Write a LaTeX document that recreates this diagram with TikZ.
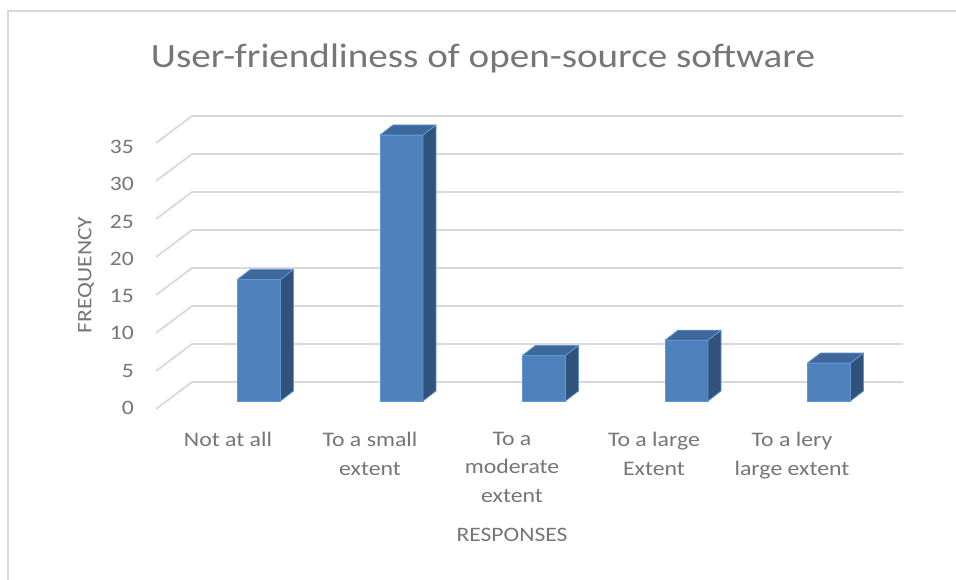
\documentclass[tikz,border=0pt]{standalone}
\usepackage{fontspec}
\setmainfont{Carlito}[FakeStretch=1.15]
\definecolor{txt}{HTML}{767676}
\definecolor{gridc}{HTML}{D9D9D9}
\definecolor{bfront}{HTML}{4F81BD}
\definecolor{bside}{HTML}{31527B}
\definecolor{btop}{HTML}{3D6899}
\definecolor{bedge}{HTML}{5F96D6}
\newcommand\drawbar[2]{%
  \pgfmathsetmacro\xl{#1-21.5}%
  \pgfmathsetmacro\xr{#1+21.5}%
  \pgfmathsetmacro\yt{401-7.6*#2}%
  \filldraw[barface, fill=bfront] (\xl,401) rectangle (\xr,\yt);
  \filldraw[barface, fill=bside] (\xr,401) -- (\xr,\yt) -- ++(13,-10) -- ({\xr+13},391) -- cycle;
  \filldraw[barface, fill=btop] (\xl,\yt) -- (\xr,\yt) -- ++(13,-10) -- ({\xl+13},{\yt-10}) -- cycle;
}
\begin{document}
\begin{tikzpicture}[x=1pt,y=-1pt,
  gridline/.style={draw=gridc, line width=1.8pt},
  barface/.style={draw=bedge, line width=0.8pt, line join=round},
  ticklbl/.style={text=txt, font=\fontsize{20.5}{24}\selectfont, anchor=east, inner sep=0pt},
  catlbl/.style={text=txt, font=\fontsize{20.7}{28.5}\selectfont, align=center, anchor=north, inner sep=0pt},
  axlbl/.style={text=txt, font=\fontsize{20.5}{24}\selectfont, inner sep=0pt}]
\useasboundingbox (0,0) rectangle (956,580);
\fill[white] (0,0) rectangle (956,580);
\draw[draw=gridc, line width=1.5pt] (8,580) -- (8,11) -- (956,11);
% gridlines
\foreach \k in {0,...,7} {
  \draw[gridline] (156,{409-38*\k}) -- (192,{382-38*\k}) -- (903,{382-38*\k});
  \pgfmathtruncatemacro\v{5*\k}
  \node[ticklbl] (tick\k) at (134,{408-37.3*\k}) {\v};
}
% bars
\drawbar{259}{16}
\drawbar{401.5}{35}
\drawbar{544}{6}
\drawbar{686.5}{8}
\drawbar{829}{5}
% labels
\node[text=txt, font=\fontsize{34}{40}\selectfont, inner sep=0pt] (title) at (483,58) {User-friendliness of open-source software};
\node[axlbl, rotate=90] (ylab) at (86,275) {FREQUENCY};
\node[axlbl] (xlab) at (512,535) {RESPONSES};
\node[catlbl] (c1) at (228,432) {Not at all};
\node[catlbl] (c2) at (370,432) {To a small\\extent};
\node[catlbl] (c3) at (512,432) {To a\\moderate\\extent};
\node[catlbl] (c4) at (654,432) {To a large\\Extent};
\node[catlbl] (c5) at (792,432) {To a lery\\large extent};
\end{tikzpicture}
\end{document}
